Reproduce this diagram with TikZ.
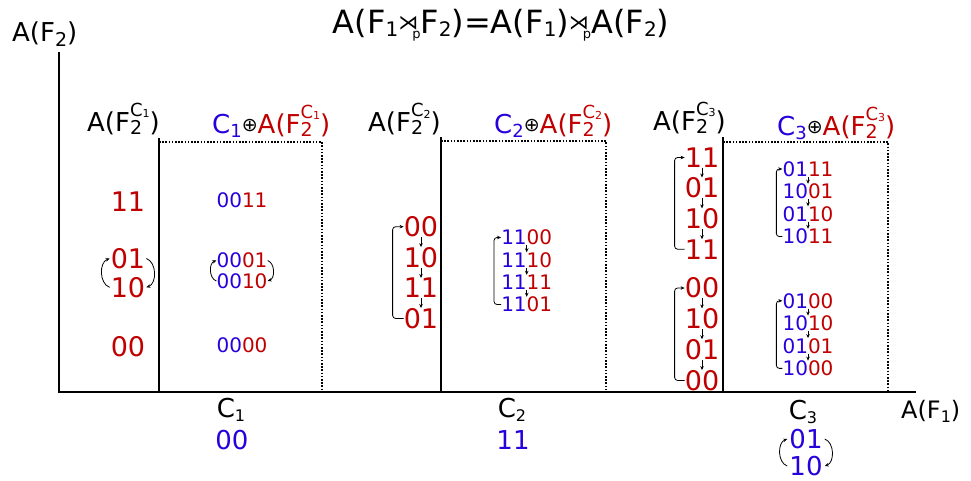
\documentclass[tikz,border=0pt]{standalone}
\usepackage{fontspec}
\setmainfont{DejaVu Sans}
\usepackage{xcolor}
\usetikzlibrary{arrows.meta, positioning}

\definecolor{valred}{RGB}{192,0,0}
\definecolor{valblue}{RGB}{40,0,220}

\newcommand{\fsz}[1]{\fontsize{#1}{#1}\selectfont}
\newcommand{\sub}[1]{\raisebox{-3pt}{\fsz{20}#1}}
\newcommand{\semij}{\raisebox{4pt}{\fsz{20}⋊}\kern-6pt\raisebox{-5pt}{\fsz{13}p}}
\newcommand{\AFC}[1]{A(F\rlap{\raisebox{-3pt}{\fsz{19}2}}\raisebox{15pt}{\fsz{18}C\raisebox{-1.5pt}{\fsz{11}#1}})}
\newcommand{\CA}[1]{\textcolor{valblue}{C\raisebox{-4pt}{\fsz{18}#1}}\raisebox{2pt}{\fsz{19}⊕}\textcolor{valred}{\AFC{#1}}}
\newcommand{\pair}[2]{\textcolor{valblue}{#1}\textcolor{valred}{#2}}

\begin{document}
\begin{tikzpicture}[
  x=1pt, y=-1pt,
  big/.style={inner sep=0pt, text=valred, font=\fsz{27}},
  small/.style={inner sep=0pt, font=\fsz{20}},
  cname/.style={inner sep=0pt, anchor=base, font=\fsz{26}},
  head/.style={inner sep=0pt, anchor=base west, font=\fsz{26}},
  axis/.style={line width=1.5pt},
  divider/.style={line width=1.5pt},
  region/.style={line width=1.2pt, dash pattern=on 1.6pt off 1.6pt},
  flow/.style={-{Stealth[length=4pt, width=3.5pt]}, line width=0.8pt},
  loopback/.style={flow, rounded corners=3pt},
  swap/.style={flow, bend left=70}
]
  \useasboundingbox (0,0) rectangle (971,480);

  % title and axes
  \node[inner sep=0pt, anchor=base, font=\fsz{32}] (title) at (501,33.5)
    {A(F\sub{1}\semij F\sub{2})=A(F\sub{1})\semij A(F\sub{2})};
  \coordinate (ytop) at (59,52);
  \coordinate (origin) at (59,392);
  \coordinate (xend) at (916,392);
  \draw[axis] (ytop) -- (origin) -- (xend);
  \node[inner sep=0pt, anchor=base west, font=\fsz{26}] (yname) at (12,41.5)
    {A(F\raisebox{-5pt}{\fsz{19}2})};
  \node[inner sep=0pt, anchor=base west, font=\fsz{24}] (xname) at (901,418)
    {A(F\raisebox{-4pt}{\fsz{16}1})};

  % class C1
  \node[head] (h1) at (87,131) {\AFC{1}};
  \node[head] (h1x) at (212,133) {\CA{1}};
  \draw[divider] (159,138) -- (159,392);
  \draw[region] (159,142) -| (322,392);
  \node[big] (l11) at (128,202) {11};
  \node[big] (l01) at (128,258.5) {01};
  \node[big, below=8pt of l01] (l10) {10};
  \node[big] (l00) at (128,347) {00};
  \draw[swap] ([xshift=-1pt]l10.west) to ([xshift=-1pt]l01.west);
  \draw[swap] ([xshift=1pt]l01.east) to ([xshift=1pt]l10.east);
  \node[small] (m11) at (242,200.5) {\pair{00}{11}};
  \node[small] (m01) at (242,260.5) {\pair{00}{01}};
  \node[small, below=5pt of m01] (m10) {\pair{00}{10}};
  \node[small] (m00) at (242,345.5) {\pair{00}{00}};
  \draw[swap] (m10.west) to (m01.west);
  \draw[swap] (m01.east) to (m10.east);
  \node[cname] (c1) at (231,417) {C\raisebox{-4pt}{\fsz{16}1}};
  \node[big, text=valblue, font=\fsz{26}] (v1) at (232,440.5) {00};

  % class C2
  \node[head] (h2) at (368,131.5) {\AFC{2}};
  \node[head] (h2x) at (494,133) {\CA{2}};
  \draw[divider] (441,137) -- (441,392);
  \draw[region] (441,141) -| (606,392);
  \node[big] (a00) at (421,226.7) {00};
  \node[big, below=10pt of a00] (a10) {10};
  \node[big, below=10pt of a10] (a11) {11};
  \node[big, below=10pt of a11] (a01) {01};
  \draw[flow] (a00) -- (a10);
  \draw[flow] (a10) -- (a11);
  \draw[flow] (a11) -- (a01);
  \draw[loopback] (a01.west) -- ++(-11,0) |- (a00.west);
  \node[small] (b00) at (526.7,237.5) {\pair{11}{00}};
  \node[small, below=7pt of b00] (b10) {\pair{11}{10}};
  \node[small, below=7pt of b10] (b11) {\pair{11}{11}};
  \node[small, below=7pt of b11] (b01) {\pair{11}{01}};
  \draw[flow] (b00) -- (b10);
  \draw[flow] (b10) -- (b11);
  \draw[flow] (b11) -- (b01);
  \draw[loopback] (b01.west) -- ++(-7,0) |- (b00.west);
  \node[cname] (c2) at (512,417) {C\raisebox{-4pt}{\fsz{16}2}};
  \node[big, text=valblue, font=\fsz{26}] (v2) at (513,440.5) {11};

  % class C3
  \node[head] (h3) at (653,130) {\AFC{3}};
  \node[head] (h3x) at (777,135) {\CA{3}};
  \draw[divider] (723,137) -- (723,392);
  \draw[region] (723,142) -| (888,392);
  \node[big] (p11) at (702,157.5) {11};
  \node[big, below=10pt of p11] (p01) {01};
  \node[big, below=10pt of p01] (p10) {10};
  \node[big, below=10pt of p10] (p11b) {11};
  \draw[flow] (p11) -- (p01);
  \draw[flow] (p01) -- (p10);
  \draw[flow] (p10) -- (p11b);
  \draw[loopback] (p11b.west) -- ++(-10,0) |- (p11.west);
  \node[big] (q00) at (702,288) {00};
  \node[big, below=10pt of q00] (q10) {10};
  \node[big, below=10pt of q10] (q01) {01};
  \node[big, below=10pt of q01] (q00b) {00};
  \draw[flow] (q00) -- (q10);
  \draw[flow] (q10) -- (q01);
  \draw[flow] (q01) -- (q00b);
  \draw[loopback] (q00b.west) -- ++(-10,0) |- (q00.west);
  \node[small] (r11) at (808,169) {\pair{01}{11}};
  \node[small, below=7pt of r11] (r01) {\pair{10}{01}};
  \node[small, below=7pt of r01] (r10) {\pair{01}{10}};
  \node[small, below=7pt of r10] (r11b) {\pair{10}{11}};
  \draw[flow] (r11) -- (r01);
  \draw[flow] (r01) -- (r10);
  \draw[flow] (r10) -- (r11b);
  \draw[loopback] (r11b.west) -- ++(-6,0) |- (r11.west);
  \node[small] (s00) at (808,300.8) {\pair{01}{00}};
  \node[small, below=7pt of s00] (s10) {\pair{10}{10}};
  \node[small, below=7pt of s10] (s01) {\pair{01}{01}};
  \node[small, below=7pt of s01] (s00b) {\pair{10}{00}};
  \draw[flow] (s00) -- (s10);
  \draw[flow] (s10) -- (s01);
  \draw[flow] (s01) -- (s00b);
  \draw[loopback] (s00b.west) -- ++(-6,0) |- (s00.west);
  \node[cname] (c3) at (803,419) {C\raisebox{-4pt}{\fsz{16}3}};
  \node[big, text=valblue, font=\fsz{26}] (v3a) at (806,439) {01};
  \node[big, text=valblue, font=\fsz{26}, below=7pt of v3a] (v3b) {10};
  \draw[swap] ([xshift=-2pt]v3b.west) to ([xshift=-2pt]v3a.west);
  \draw[swap] ([xshift=2pt]v3a.east) to ([xshift=2pt]v3b.east);
\end{tikzpicture}
\end{document}
